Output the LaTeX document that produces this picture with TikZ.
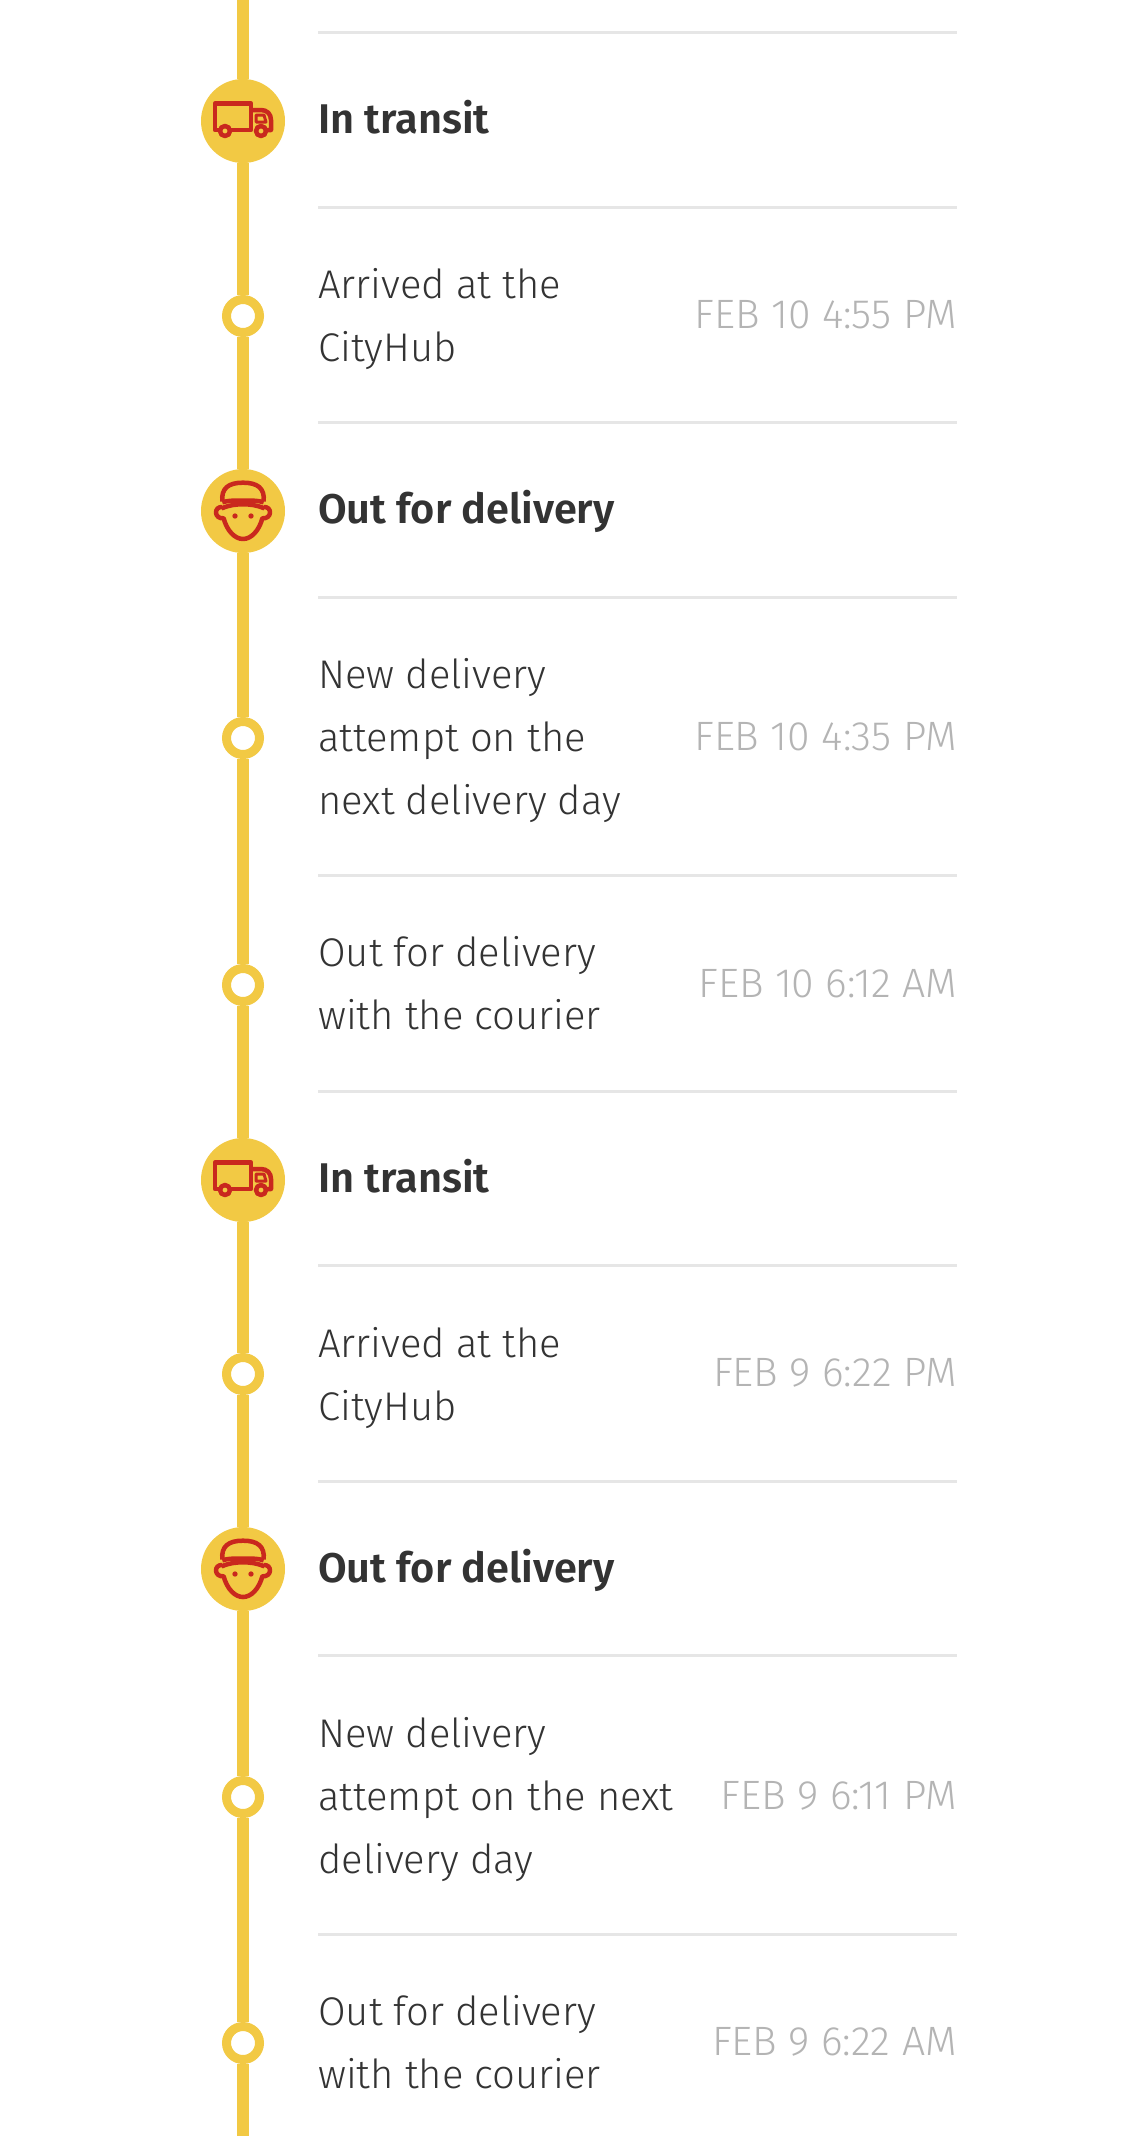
\documentclass[tikz,border=0pt]{standalone}
\usepackage{fontspec}
\setmainfont[UprightFont=* Light,BoldFont=* SemiBold]{Fira Sans}
\definecolor{dhlyellow}{HTML}{F2C944}
\definecolor{dhlred}{HTML}{C9281E}
\definecolor{ink}{HTML}{333333}
\definecolor{soft}{HTML}{B4B4B4}
\definecolor{rule}{HTML}{E6E6E6}
\tikzset{
  bar/.style={draw=dhlyellow,line width=12pt},
  bigdot/.style={circle,fill=dhlyellow,minimum size=84pt,inner sep=0pt},
  smalldot/.style={circle,draw=dhlyellow,fill=white,line width=9pt,minimum size=33pt,inner sep=0pt},
  sep/.style={draw=rule,line width=3pt},
  head/.style={anchor=base west,inner sep=0pt,text=ink,font=\fontsize{41.5}{63}\selectfont\bfseries},
  body/.style={anchor=base west,inner sep=0pt,text=ink,align=left,font=\fontsize{40}{63}\selectfont},
  stamp/.style={anchor=base east,inner sep=0pt,text=soft,font=\fontsize{41}{63}\selectfont},
  icon/.style={draw=dhlred,line width=4.5pt,line join=round},
  truckicon/.pic={
    \draw[icon] (-12,9) -- (8,9) -- (8,-17.5) -- (-28,-17.5) -- (-28,9) -- (-24,9);
    \draw[icon] (8,-11) -- (18,-11) .. controls (24,-11) and (28,-7) .. (28,-1) -- (28,9) -- (24,9);
    \draw[icon,line width=3pt] (13,-6) -- (21,-6) -- (23,1) -- (13,1) -- cycle;
    \draw[icon,fill=dhlyellow] (-18,10) circle (5);
    \draw[icon,fill=dhlyellow] (18,10) circle (5);
  },
  manicon/.pic={
    \begin{scope}[x=.3333pt,y=-.3333pt]
      \draw[icon] (-62,-28) .. controls (-66,-68) and (-44,-85) .. (0,-85) .. controls (44,-85) and (66,-68) .. (62,-28);
      \draw[icon] (-62,-26) .. controls (-40,-33) and (-22,-31) .. (0,-31) .. controls (22,-31) and (40,-33) .. (62,-26);
      \draw[icon] (-64,-8) .. controls (-40,-18) and (-22,-20) .. (0,-20) .. controls (22,-20) and (40,-18) .. (64,-8);
      \draw[icon] (-62,-12) .. controls (-88,-14) and (-88,24) .. (-58,22) .. controls (-48,60) and (-24,84) .. (0,84) .. controls (24,84) and (48,60) .. (58,22) .. controls (88,24) and (88,-14) .. (62,-12);
      \fill[dhlred] (-24,15) circle (8) (24,15) circle (8);
    \end{scope}
  }
}
\begin{document}
\begin{tikzpicture}[x=1pt,y=-1pt]
\useasboundingbox[fill=white] (0,0) rectangle (1125,2136);
\coordinate (top) at (243,0);
\coordinate (bottom) at (243,2136);
% separators
\foreach \yy in {32,207,422,597,875,1091,1265,1481,1655,1934}
  \draw[sep] (318,\yy) -- (957,\yy);
% timeline nodes
\node[bigdot] (a) at (243,121) {};
\node[smalldot] (b) at (243,316) {};
\node[bigdot] (c) at (243,511) {};
\node[smalldot] (d) at (243,738) {};
\node[smalldot] (e) at (243,985) {};
\node[bigdot] (f) at (243,1180) {};
\node[smalldot] (g) at (243,1374) {};
\node[bigdot] (h) at (243,1569) {};
\node[smalldot] (i) at (243,1797) {};
\node[smalldot] (j) at (243,2043) {};
\draw[bar] (top) -- (a);
\draw[bar] (a) -- (b);
\draw[bar] (b) -- (c);
\draw[bar] (c) -- (d);
\draw[bar] (d) -- (e);
\draw[bar] (e) -- (f);
\draw[bar] (f) -- (g);
\draw[bar] (g) -- (h);
\draw[bar] (h) -- (i);
\draw[bar] (i) -- (j);
\draw[bar] (j) -- (bottom);
% icons
\pic at (a) {truckicon};
\pic at (c) {manicon};
\pic at (f) {truckicon};
\pic at (h) {manicon};
% headings
\node[head] (ta) at (318,133) {In transit};
\node[head] (tc) at (318,523) {Out for delivery};
\node[head] (tf) at (318,1192) {In transit};
\node[head] (th) at (318,1582) {Out for delivery};
% events (base anchor is the last line)
\node[body] (tb) at (318,361) {Arrived at the\\CityHub};
\node[body] (td) at (318,814) {New delivery\\attempt on the\\next delivery day};
\node[body] (te) at (318,1029) {Out for delivery\\with the courier};
\node[body] (tg) at (318,1420) {Arrived at the\\CityHub};
\node[body] (ti) at (318,1873) {New delivery\\attempt on the next\\delivery day};
\node[body] (tj) at (318,2088) {Out for delivery\\with the courier};
% stamps
\node[stamp] (sb) at (957,328) {FEB 10 4:55 PM};
\node[stamp] (sd) at (957,750) {FEB 10 4:35 PM};
\node[stamp] (se) at (957,997) {FEB 10 6:12 AM};
\node[stamp] (sg) at (957,1386) {FEB 9 6:22 PM};
\node[stamp] (si) at (957,1809) {FEB 9 6:11 PM};
\node[stamp] (sj) at (957,2055) {FEB 9 6:22 AM};
\end{tikzpicture}
\end{document}
